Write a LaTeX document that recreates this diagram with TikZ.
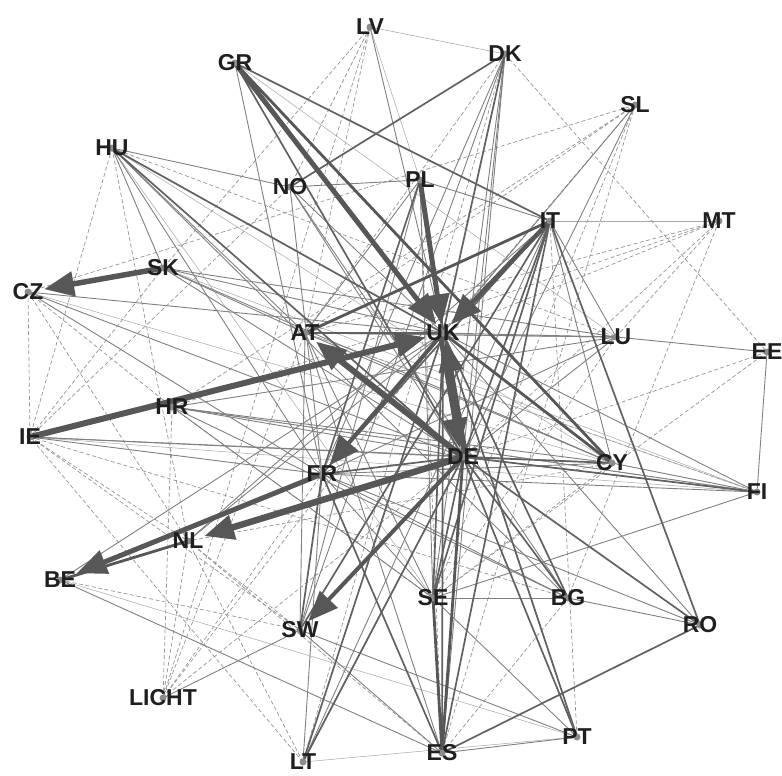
\documentclass[tikz,border=0pt]{standalone}
\usepackage{fontspec}
\setmainfont{Liberation Sans}
\usetikzlibrary{arrows.meta}
\pgfdeclarelayer{edges}
\pgfsetlayers{edges,main}
\begin{document}
\begin{tikzpicture}[x=1pt,y=-1pt,
  lab/.style={font=\fontsize{23}{23}\selectfont\bfseries, text=black!88, inner sep=0.5pt},
  hair/.style={line width=0.5pt, draw=black!35},
  thn/.style={line width=0.9pt, draw=black!50},
  med/.style={line width=1.7pt, draw=black!62},
  thk/.style={line width=2.8pt, draw=black!66},
  dsh/.style={line width=0.7pt, draw=black!42, dash pattern=on 4pt off 2.5pt},
  arr/.style={draw=black!66, fill=black!66, -{Triangle[length=30pt,width=24pt]}},
  dotm/.style={fill=black!45}
]
\useasboundingbox (0,0) rectangle (782,776);
\node[lab] (LV) at (370,27) {LV};
\node[lab] (GR) at (235,63) {GR};
\node[lab] (DK) at (505,54) {DK};
\node[lab] (SL) at (635,105) {SL};
\node[lab] (HU) at (112,148) {HU};
\node[lab] (NO) at (290,187) {NO};
\node[lab] (PL) at (420,180) {PL};
\node[lab] (IT) at (550,221) {IT};
\node[lab] (MT) at (719,221) {MT};
\node[lab] (SK) at (163,268) {SK};
\node[lab] (CZ) at (28,292) {CZ};
\node[lab] (AT) at (305,333) {AT};
\node[lab] (UK) at (443,333) {UK};
\node[lab] (LU) at (616,337) {LU};
\node[lab] (EE) at (767,352) {EE};
\node[lab] (HR) at (172,407) {HR};
\node[lab] (IE) at (30,437) {IE};
\node[lab] (DE) at (463,457) {DE};
\node[lab] (CY) at (612,463) {CY};
\node[lab] (FR) at (322,474) {FR};
\node[lab] (FI) at (757,492) {FI};
\node[lab] (NL) at (188,541) {NL};
\node[lab] (BE) at (60,580) {BE};
\node[lab] (SE) at (433,598) {SE};
\node[lab] (BG) at (568,598) {BG};
\node[lab] (SW) at (300,630) {SW};
\node[lab] (RO) at (700,625) {RO};
\node[lab] (LICHT) at (163,698) {LICHT};
\node[lab] (PT) at (577,737) {PT};
\node[lab] (LT) at (303,762) {LT};
\node[lab] (ES) at (442,753) {ES};
\begin{pgfonlayer}{edges}
% dashed
\foreach \a/\b in {LV/SK,LV/LICHT,LV/AT,HU/IE,HU/NL,HU/LU,DK/EE,DK/AT,SL/HR,SL/ES,SL/AT,SL/SE,SL/FR,MT/AT,MT/HR,MT/DE,MT/BG,EE/DE,EE/SE,FI/AT,LICHT/NL,LICHT/AT,LICHT/UK,LICHT/FR,LICHT/DE,LICHT/HR,LT/IE,LT/NL,IE/NO,IE/SW,IE/NL,CZ/IE,CZ/NL,SE/HR,BG/ES,PT/IT,NL/SW,NL/ES,BE/SW,IE/BG,CZ/HR,SK/IE,FI/HR,UK/MT,LV/NO,LU/MT,DK/LT,PL/ES,LU/SE,CY/SE,CY/NL,HU/UK,SL/CZ}
  \draw[dsh] (\a.center) -- (\b.center);
% hairlines
\foreach \a/\b in {LV/DK,MT/IT,LV/PL,HU/CY,HU/SE,GR/LU,SK/FI,CZ/CY,IE/FI,AT/FI,LT/PT,BE/PT}
  \draw[hair] (\a.center) -- (\b.center);
% thin
\foreach \a/\b in {LV/UK,HU/NO,NO/PL,HU/FR,HU/SK,HU/AT,HU/BG,PL/IT,PL/SW,PL/AT,DK/DE,DK/SE,DK/ES,DK/FR,SL/UK,SL/DE,LU/UK,LU/DE,LU/EE,LU/FR,LU/AT,EE/FI,FI/UK,FI/DE,FI/SE,FI/CY,CY/FR,RO/FR,RO/UK,BG/FR,PT/ES,PT/UK,PT/SW,PT/SE,SW/ES,SW/AT,SW/LICHT,BE/ES,BE/UK,LT/DE,LT/IT,IE/DE,IE/CY,HR/DE,HR/CY,HR/FI,HR/LU,CZ/UK,CZ/DE,CZ/FR,SK/UK,SK/DE,SK/LU,SK/CY,SK/AT,AT/LU,NO/DE,NO/UK,NO/BG,GR/FR,NL/IT,FR/FI,FR/SE,FR/LT,AT/SE,AT/ES,NL/UK,HR/SE,HR/BG,IE/FR,AT/CY,AT/IT,NO/FR,PL/SE,DK/SW,LU/IT,IT/CY,UK/FR,BG/SE,RO/BG}
  \draw[thn] (\a.center) -- (\b.center);
% medium
\foreach \a/\b in {GR/DE,GR/IT,IT/DE,IT/SE,IT/ES,IT/SW,IT/RO,DE/SE,DE/BG,DE/FR,DE/PT,DE/LT,UK/SE,UK/ES,UK/AT,FR/ES,RO/ES,DE/RO,DK/NO,IT/FR,UK/BG,HU/DE,HU/UK,PL/FR,PL/DE,LT/UK,CY/DE,DK/UK,SW/FR,UK/PT,DE/FI}
  \draw[med] (\a.center) -- (\b.center);
% thick
\foreach \a/\b in {GR/CY,DE/ES,SE/ES,NL/BE,UK/CY,IT/AT}
  \draw[thk] (\a.center) -- (\b.center);
% arrows
\draw[arr, line width=5.5pt] (SK.center) -- (CZ);
\draw[arr, line width=6pt] (IE.center) -- (UK);
\draw[arr, line width=6pt] (DE.center) -- (AT);
\draw[arr, line width=6.5pt] (DE.center) -- (NL);
\draw[arr, line width=5pt] (FR.center) -- (BE);
\draw[arr, line width=4pt] (DE.center) -- (SW);
\draw[arr, line width=5pt] (GR.center) -- (UK);
\draw[arr, line width=5pt] (PL.center) -- (UK);
\draw[arr, line width=4.5pt] (IT.center) -- (UK);
\draw[arr, line width=5pt] ([xshift=3pt]DE.center) -- ([xshift=3pt]UK.south);
\draw[arr, line width=5pt] ([xshift=-3pt]UK.center) -- ([xshift=-3pt]DE.north);
\draw[arr, line width=4pt] (UK.center) -- (FR);
% node dots
\foreach \n in {LV,GR,DK,SL,HU,NO,PL,IT,MT,SK,CZ,AT,UK,LU,EE,HR,IE,DE,CY,FR,FI,NL,BE,SE,BG,SW,RO,LICHT,PT,LT,ES}
  \fill[dotm] (\n.center) circle (3.5pt);
\end{pgfonlayer}
\end{tikzpicture}
\end{document}
